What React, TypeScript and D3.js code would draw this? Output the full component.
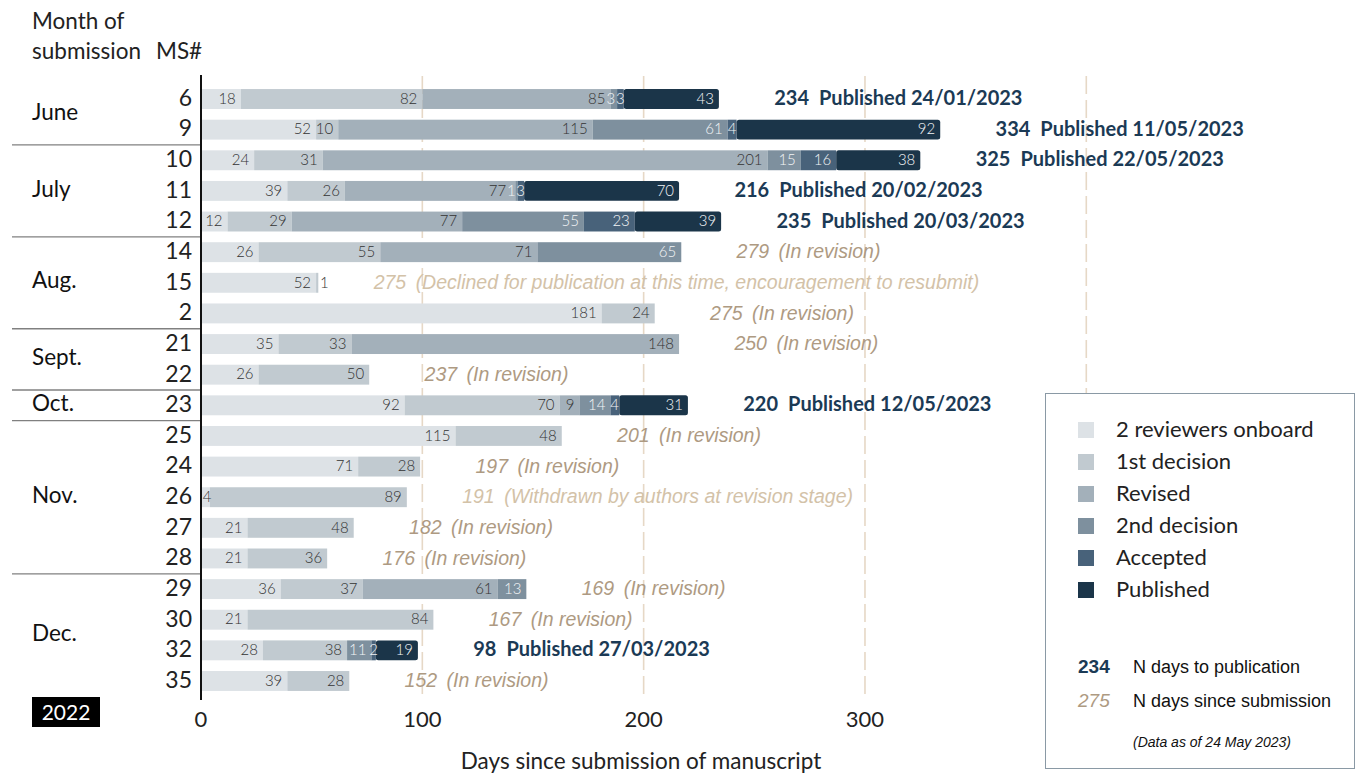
import React from 'react';
import * as d3 from 'd3';

// Manuscript ids in display order, with submission month
const msIds = ['6', '9', '10', '11', '12', '14', '15', '2', '21', '22', '23', '25', '24', '26', '27', '28', '29', '30', '32', '35'];
const monthOf = ['June', 'June', 'July', 'July', 'July', 'Aug.', 'Aug.', 'Aug.', 'Sept.', 'Sept.', 'Oct.', 'Nov.', 'Nov.', 'Nov.', 'Nov.', 'Nov.', 'Dec.', 'Dec.', 'Dec.', 'Dec.'];
const months = ['June', 'July', 'Aug.', 'Sept.', 'Oct.', 'Nov.', 'Dec.'];

// Days spent in each stage
const stages = ['2 reviewers onboard', '1st decision', 'Revised', '2nd decision', 'Accepted', 'Published'];
const reviewers = [18, 52, 24, 39, 12, 26, 52, 181, 35, 26, 92, 115, 71, 4, 21, 21, 36, 21, 28, 39];
const firstDecision = [82, 10, 31, 26, 29, 55, 1, 24, 33, 50, 70, 48, 28, 89, 48, 36, 37, 84, 38, 28];
const revised = [85, 115, 201, 77, 77, 71, 0, 0, 148, 0, 9, 0, 0, 0, 0, 0, 61, 0, 0, 0];
const secondDecision = [3, 61, 15, 1, 55, 65, 0, 0, 0, 0, 14, 0, 0, 0, 0, 0, 13, 0, 11, 0];
const accepted = [3, 4, 16, 3, 23, 0, 0, 0, 0, 0, 4, 0, 0, 0, 0, 0, 0, 0, 2, 0];
const published = [43, 92, 38, 70, 39, 0, 0, 0, 0, 0, 31, 0, 0, 0, 0, 0, 0, 0, 19, 0];

// Annotations
const dayCounts = [234, 334, 325, 216, 235, 279, 275, 275, 250, 237, 220, 201, 197, 191, 182, 176, 169, 167, 98, 152];
const statusText = [
    'Published 24/01/2023', 'Published 11/05/2023', 'Published 22/05/2023', 'Published 20/02/2023', 'Published 20/03/2023',
    '(In revision)', '(Declined for publication at this time, encouragement to resubmit)', '(In revision)',
    '(In revision)', '(In revision)', 'Published 12/05/2023', '(In revision)', '(In revision)',
    '(Withdrawn by authors at revision stage)', '(In revision)', '(In revision)', '(In revision)', '(In revision)',
    'Published 27/03/2023', '(In revision)',
];
const xTicks = [0, 100, 200, 300];
const gridTicks = [100, 200, 300, 400];

const colors = ['#dde2e6', '#c1cad0', '#a3b0ba', '#7e909e', '#48627a', '#1b3549'];
const navy = '#1b3a55';
const tan = '#ae9a82';
const paleTan = '#d3c2a8';
const sans = 'Lato, "Open Sans", sans-serif';
const arial = '"Liberation Sans", Arial, sans-serif';

const App = () => {
    const W = 1357, H = 773;
    const x = d3.scaleLinear().domain([0, 400]).range([201, 1086.3]);
    const y = d3.scaleBand<string>().domain(msIds).range([83.7, 696.3]).paddingInner(0.35).paddingOuter(0.175);
    const bw = y.bandwidth();

    const cols = [reviewers, firstDecision, revised, secondDecision, accepted, published];
    const table = msIds.map((id, i) => {
        const row: any = { id };
        stages.forEach((s, k) => (row[s] = cols[k][i]));
        return row;
    });
    const series = d3.stack().keys(stages)(table);

    const cy = (id: string) => (y(id) as number) + bw / 2;

    // month groups
    const groups = months.map(m => {
        const ids = msIds.filter((_, i) => monthOf[i] === m);
        return { m, first: ids[0], last: ids[ids.length - 1] };
    });

    // segment labels: inside end, centred when too narrow, nudged apart when they collide
    const labelFs = 15;
    const pad = 5;
    const labels: any[] = [];
    msIds.forEach((id, i) => {
        const row: any[] = [];
        series.forEach((s, k) => {
            const d = s[i];
            const v = d[1] - d[0];
            if (!v) return;
            const x0 = x(d[0]), x1 = x(d[1]);
            const segW = x1 - x0;
            const tw = String(v).length * labelFs * 0.56;
            const isLast = series.slice(k + 1).every(o => o[i][1] - o[i][0] === 0);
            let right = x1 - pad;
            let outside = false;
            if (isLast && segW < 4) {
                right = x1 + 2 + tw;
                outside = true;
            } else if (tw + pad > segW) {
                right = (x0 + x1) / 2 + tw / 2;
            }
            if (k === 0) right = Math.max(right, x0 + 2 + tw);
            row.push({ id, k, v, right, tw, outside });
        });
        for (let j = row.length - 2; j >= 0; j--) {
            const nextLeft = row[j + 1].right - row[j + 1].tw;
            if (row[j].right > nextLeft - 1) row[j].right = nextLeft - 1;
        }
        labels.push(...row);
    });

    return (
        <svg width={W} height={H} style={{ position: 'absolute', left: 0, top: 0, background: '#fff' }}>
            {/* grid */}
            {gridTicks.map(t => (
                <line key={t} x1={x(t)} x2={x(t)} y1={76} y2={700} stroke="#e6d8c6" strokeWidth={1.6} strokeDasharray="18,6" />
            ))}

            {/* header */}
            <text x={32} y={29} fontFamily={sans} fontSize={22.5} fill="#222">Month of</text>
            <text x={32} y={59} fontFamily={sans} fontSize={22.5} fill="#222">submission</text>
            <text x={156} y={59} fontFamily={sans} fontSize={22.5} fill="#222">MS#</text>

            {/* month separators and labels */}
            {groups.map((g, i) => {
                const top = (y(g.first) as number) - (y.step() - bw) / 2;
                const bottom = (y(g.last) as number) + bw + (y.step() - bw) / 2;
                return (
                    <g key={g.m}>
                        {i > 0 && <line x1={12} x2={201} y1={top} y2={top} stroke="#808080" strokeWidth={1.3} />}
                        <text x={32} y={(top + bottom) / 2} fontFamily={sans} fontSize={22.5} fill="#111" dominantBaseline="middle">{g.m}</text>
                    </g>
                );
            })}

            {/* MS numbers */}
            {msIds.map(id => (
                <text key={id} x={192} y={cy(id) + 1} textAnchor="end" dominantBaseline="middle" fontFamily={sans} fontSize={23} fill="#222">{id}</text>
            ))}

            {/* bars */}
            {series.map((s, k) => (
                <g key={s.key} fill={colors[k]}>
                    {s.map((d, i) => {
                        const v = d[1] - d[0];
                        if (!v) return null;
                        return (
                            <rect key={i} x={x(d[0])} y={y(msIds[i])} width={x(d[1]) - x(d[0])} height={bw} rx={k === 5 ? 2.5 : 0} />
                        );
                    })}
                </g>
            ))}

            <g fontFamily={sans} fontSize={labelFs} fontWeight={300}>
                {labels.map(l => (
                    <text key={l.id + '-' + l.k} x={l.right} y={cy(l.id) + 1} textAnchor="end" dominantBaseline="middle"
                        fill={l.k >= 3 && !l.outside ? '#f2f4f6' : '#333'}>{l.v}</text>
                ))}
            </g>

            {/* annotations */}
            {msIds.map((id, i) => {
                const total = cols.reduce((a, c) => a + c[i], 0);
                const isPub = published[i] > 0;
                const tx = x(total + 25);
                if (isPub) {
                    return (
                        <text key={'a' + id} x={tx} y={cy(id) + 1} dominantBaseline="middle" fontFamily={sans} fontSize={20} fontWeight={700} fill={navy}>
                            {dayCounts[i]}<tspan dx={10}>{statusText[i]}</tspan>
                        </text>
                    );
                }
                const pale = statusText[i] !== '(In revision)';
                return (
                    <g key={'a' + id} fontFamily={arial} fontSize={19.5} fontStyle="italic" fill={pale ? paleTan : tan}>
                        <text x={tx} y={cy(id) + 1} dominantBaseline="middle">{dayCounts[i]}</text>
                        <text x={tx + 42} y={cy(id) + 1} dominantBaseline="middle">{statusText[i]}</text>
                    </g>
                );
            })}

            {/* axis */}
            <line x1={201} x2={201} y1={75} y2={700} stroke="#111" strokeWidth={2} />
            {xTicks.map(t => (
                <text key={t} x={x(t)} y={727} textAnchor="middle" fontFamily={sans} fontSize={22} fill="#222">{t}</text>
            ))}
            <text x={641} y={769} textAnchor="middle" fontFamily={sans} fontSize={22.5} fill="#222">Days since submission of manuscript</text>

            {/* year tag */}
            <rect x={32} y={697} width={68} height={30} fill="#000" />
            <text x={66} y={720} textAnchor="middle" fontFamily={sans} fontSize={21} fill="#fff">2022</text>

            {/* legend */}
            <rect x={1045.5} y={393.5} width={309} height={375} fill="#fff" stroke="#8a99a5" strokeWidth={1} />
            {stages.map((s, k) => (
                <g key={s} transform={`translate(1078, ${430 + k * 32})`}>
                    <rect x={0} y={-8} width={16} height={16} fill={colors[k]} />
                    <text x={38} y={1} dominantBaseline="middle" fontFamily={sans} fontSize={22} fill="#222">{s}</text>
                </g>
            ))}
            <text x={1078} y={673} fontFamily={arial} fontSize={19} fontWeight={700} fill={navy}>234</text>
            <text x={1133} y={673} fontFamily={arial} fontSize={18} fill="#111">N days to publication</text>
            <text x={1078} y={707} fontFamily={arial} fontSize={19} fontStyle="italic" fill={tan}>275</text>
            <text x={1133} y={707} fontFamily={arial} fontSize={18} fill="#111">N days since submission</text>
            <text x={1133} y={747} fontFamily={arial} fontSize={14} fontStyle="italic" fill="#111">(Data as of 24 May 2023)</text>
        </svg>
    );
};

export default App;
